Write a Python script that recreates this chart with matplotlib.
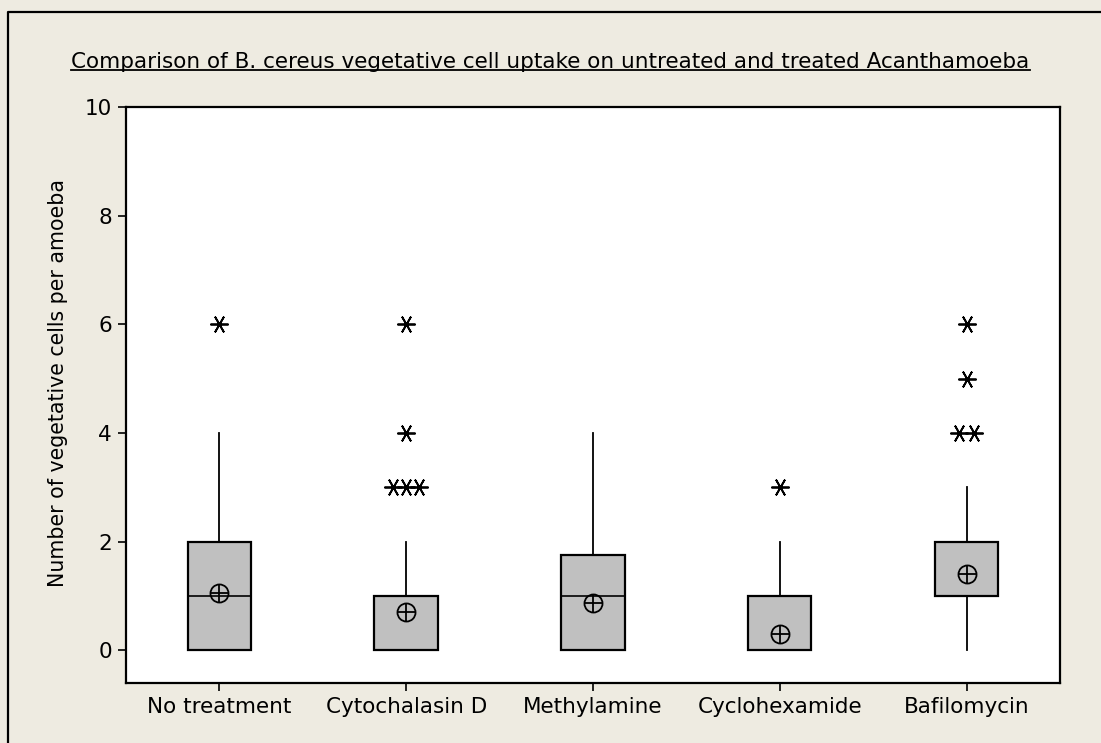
import numpy as np
import matplotlib
matplotlib.use("Agg")
import matplotlib.pyplot as plt
from matplotlib.lines import Line2D

# summary values for each treatment group
groups = ["No treatment", "Cytochalasin D", "Methylamine", "Cyclohexamide", "Bafilomycin"]
q1 = [0, 0, 0, 0, 1]
medians = [1, 0, 1, 0, 1]
q3 = [2, 1, 1.75, 1, 2]
whisk_lo = [0, 0, 0, 0, 0]
whisk_hi = [4, 2, 4, 2, 3]
means = [1.05, 0.70, 0.87, 0.31, 1.41]
outliers = [[6], [3, 3, 3, 4, 6], [], [3], [4, 4, 5, 6]]

bg = "#EEEBE1"
plt.rcParams["font.family"] = ["DejaVu Sans"]

fig = plt.figure(figsize=(11.01, 7.43), dpi=100, facecolor=bg)
ax = fig.add_axes([0.1144, 0.0808, 0.8483, 0.7752])
ax.set_facecolor("white")

pos = np.arange(1, len(groups) + 1)
stats = []
for i in range(len(groups)):
    stats.append(dict(med=medians[i], q1=q1[i], q3=q3[i],
                      whislo=whisk_lo[i], whishi=whisk_hi[i], fliers=[]))

ax.bxp(stats, positions=pos, widths=0.34, patch_artist=True,
       showcaps=False, showfliers=False,
       boxprops=dict(facecolor="#C0C0C0", edgecolor="black", linewidth=1.6),
       medianprops=dict(color="black", linewidth=1.2),
       whiskerprops=dict(color="black", linewidth=1.3))

# mean symbol: circle with a cross
ax.plot(pos, means, linestyle="none", marker="o", markersize=13,
        markerfacecolor="none", markeredgecolor="black", markeredgewidth=1.3)
ax.plot(pos, means, linestyle="none", marker="+", markersize=13,
        markeredgecolor="black", markeredgewidth=1.3)

# outliers, tied values spread sideways
for p, vals in zip(pos, outliers):
    for v in set(vals):
        n = vals.count(v)
        step = 0.07 if n > 2 else 0.08
        offs = (np.arange(n) - (n - 1) / 2) * step
        ax.plot(p + offs, [v] * n, linestyle="none", marker=(6, 2, 90),
                markersize=13, markeredgecolor="black", markeredgewidth=1.3)

ax.set_xlim(0.5, 5.5)
ax.set_ylim(-0.6, 10)
ax.set_xticks(pos)
ax.set_xticklabels(groups)
ax.set_yticks([0, 2, 4, 6, 8, 10])
ax.tick_params(direction="out", length=6, width=1.2, labelsize=15.5, pad=4)
for s in ax.spines.values():
    s.set_linewidth(1.6)

fig.text(0.053, 0.484, "Number of vegetative cells per amoeba", rotation=90,
         ha="center", va="center", fontsize=14.8)

title = fig.text(0.5, 0.917, "Comparison of B. cereus vegetative cell uptake on untreated and treated Acanthamoeba",
                 ha="center", va="center", fontsize=15.5)

# underline under the title
fig.canvas.draw()
bb = title.get_window_extent().transformed(fig.transFigure.inverted())
fig.add_artist(Line2D([bb.x0, bb.x1], [bb.y0 + 0.002, bb.y0 + 0.002],
                      transform=fig.transFigure, color="black", linewidth=1.3))

# outer frame, left and top edges
fig.add_artist(Line2D([8 / 1101, 8 / 1101, 1.0], [0.0, 1 - 12 / 743, 1 - 12 / 743],
                      transform=fig.transFigure, color="black", linewidth=1.6))

fig.savefig("out.png", dpi=100, facecolor=bg)
